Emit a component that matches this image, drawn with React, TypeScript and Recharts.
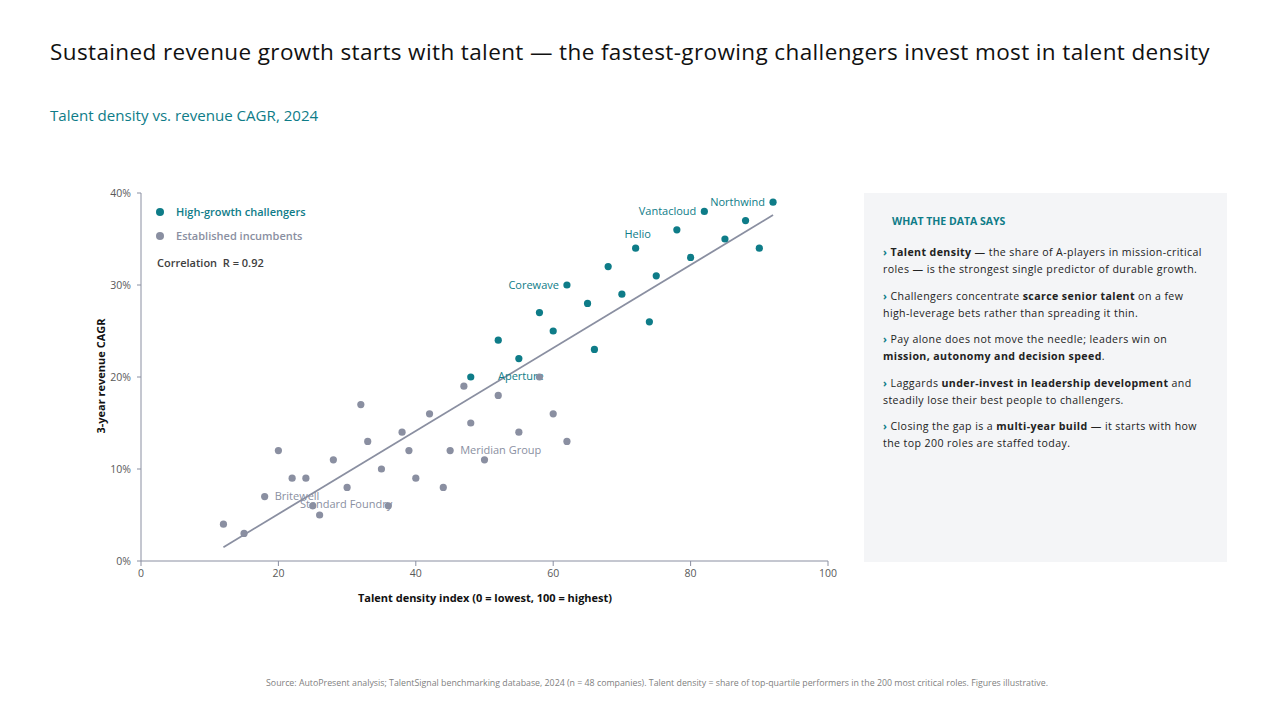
import React from 'react';
import { ScatterChart, Scatter, XAxis, YAxis, ReferenceLine } from 'recharts';

// Talent density index (x) and 3-year revenue CAGR in % (y)
const challengerDensity = [92, 82, 88, 78, 85, 72, 90, 80, 68, 75, 62, 70, 65, 58, 74, 60, 52, 66, 55, 48];
const challengerCagr = [39, 38, 37, 36, 35, 34, 34, 33, 32, 31, 30, 29, 28, 27, 26, 25, 24, 23, 22, 20];
const challengerNames = ['Northwind', 'Vantacloud', '', '', '', 'Helio', '', '', '', '', 'Corewave', '', '', '', '', '', '', '', 'Aperture', ''];

const incumbentDensity = [12, 15, 18, 20, 22, 24, 25, 26, 28, 30, 32, 33, 35, 36, 38, 39, 40, 42, 44, 45, 47, 48, 50, 52, 55, 58, 60, 62];
const incumbentCagr = [4, 3, 7, 12, 9, 9, 6, 5, 11, 8, 17, 13, 10, 6, 14, 12, 9, 16, 8, 12, 19, 15, 11, 18, 14, 20, 16, 13];
const incumbentNames = ['', '', 'Britewell', '', '', '', '', '', '', 'Standard Foundry', '', '', '', '', '', '', '', '', '', 'Meridian Group', '', '', '', '', '', '', '', ''];

// fitted trend line end points
const trendDensity = [12, 92];
const trendCagr = [1.5, 37.6];

const xTicks = [0, 20, 40, 60, 80, 100];
const yTicks = [0, 10, 20, 30, 40];

// each insight: two lines, each a list of [weight, text] runs
const insights: [string, string][][][] = [
  [
    [['', ' '], ['b', 'Talent density'], ['', ' — the share of A-players in mission-critical']],
    [['', 'roles — is the strongest single predictor of durable growth.']],
  ],
  [
    [['', ' Challengers concentrate '], ['b', 'scarce senior talent'], ['', ' on a few']],
    [['', 'high-leverage bets rather than spreading it thin.']],
  ],
  [
    [['', ' Pay alone does not move the needle; leaders win on']],
    [['b', 'mission, autonomy and decision speed'], ['', '.']],
  ],
  [
    [['', ' Laggards '], ['b', 'under-invest in leadership development'], ['', ' and']],
    [['', 'steadily lose their best people to challengers.']],
  ],
  [
    [['', ' Closing the gap is a '], ['b', 'multi-year build'], ['', ' — it starts with how']],
    [['', 'the top 200 roles are staffed today.']],
  ],
];

const FONT = '"Open Sans", "Segoe UI", sans-serif';
const TEAL = '#0E7C88';
const GREY = '#8A8FA1';
const AXIS = '#8A8FA1';

const toPoints = (xs: number[], ys: number[], names: string[]) =>
  xs.map((x, i) => ({ x, y: ys[i], name: names[i] }));

const challengers = toPoints(challengerDensity, challengerCagr, challengerNames);
const incumbents = toPoints(incumbentDensity, incumbentCagr, incumbentNames);
const named = [
  ...challengers.filter((p) => p.name).map((p) => ({ ...p, color: TEAL })),
  ...incumbents.filter((p) => p.name).map((p) => ({ ...p, color: GREY })),
];

const labelPlacement: Record<string, { anchor: 'start' | 'middle' | 'end'; dx: number; dy: number }> = {
  Northwind: { anchor: 'end', dx: -8, dy: -1 },
  Vantacloud: { anchor: 'end', dx: -8, dy: -1 },
  Helio: { anchor: 'middle', dx: 2, dy: -15 },
  Corewave: { anchor: 'end', dx: -8, dy: -1 },
  Aperture: { anchor: 'middle', dx: 2, dy: 17 },
  Britewell: { anchor: 'start', dx: 10, dy: -1 },
  'Standard Foundry': { anchor: 'middle', dx: -1, dy: 16 },
  'Meridian Group': { anchor: 'start', dx: 10, dy: -1 },
};

const makeDot = (color: string) => (props: any) => (
  <circle cx={props.cx} cy={props.cy} r={3.6} fill={color} />
);

const NameLabel = (props: any) => {
  const { cx, cy, payload } = props;
  const place = labelPlacement[payload.name];
  if (!place) return <g />;
  return (
    <text
      x={cx + place.dx}
      y={cy + place.dy}
      textAnchor={place.anchor}
      dominantBaseline="central"
      fontSize={11}
      fontFamily={FONT}
      fill={payload.color}
    >
      {payload.name}
    </text>
  );
};

const tickStyle = { fontSize: 10.5, fill: '#595959', fontFamily: FONT };

export default function App() {
  return (
    <div style={{ position: 'absolute', left: 0, top: 0, width: 1280, height: 720, background: '#fff', fontFamily: FONT, overflow: 'hidden' }}>
      <div style={{ position: 'absolute', left: 50, top: 36, fontSize: 22.5, letterSpacing: 0.38, color: '#111', whiteSpace: 'nowrap' }}>
        Sustained revenue growth starts with talent — the fastest-growing challengers invest most in talent density
      </div>
      <div style={{ position: 'absolute', left: 50, top: 105, fontSize: 15.1, color: TEAL, whiteSpace: 'nowrap' }}>
        Talent density vs. revenue CAGR, 2024
      </div>

      <div style={{ position: 'absolute', left: 0, top: 0 }}>
        <ScatterChart width={860} height={620} margin={{ top: 193, right: 32, bottom: 29, left: 101 }}>
          <XAxis
            type="number"
            dataKey="x"
            domain={[0, 100]}
            ticks={xTicks}
            height={30}
            stroke={AXIS}
            tickSize={5}
            tickMargin={4}
            tick={tickStyle}
          />
          <YAxis
            type="number"
            dataKey="y"
            domain={[0, 40]}
            ticks={yTicks}
            width={40}
            stroke={AXIS}
            tickSize={4}
            tickMargin={6}
            tick={tickStyle}
            tickFormatter={(v: number) => `${v}%`}
          />
          <ReferenceLine
            segment={[
              { x: trendDensity[0], y: trendCagr[0] },
              { x: trendDensity[1], y: trendCagr[1] },
            ]}
            stroke={GREY}
            strokeWidth={1.8}
          />
          <Scatter data={named} shape={NameLabel} isAnimationActive={false} />
          <Scatter data={incumbents} shape={makeDot(GREY)} isAnimationActive={false} />
          <Scatter data={challengers} shape={makeDot(TEAL)} isAnimationActive={false} />
        </ScatterChart>
      </div>

      {/* axis titles */}
      <div style={{ position: 'absolute', left: 100, top: 376, transform: 'translate(-50%, -50%) rotate(-90deg)', fontSize: 11, fontWeight: 700, color: '#111', whiteSpace: 'nowrap' }}>
        3-year revenue CAGR
      </div>
      <div style={{ position: 'absolute', left: 485, top: 597, transform: 'translate(-50%, -50%)', fontSize: 11, fontWeight: 700, color: '#111', whiteSpace: 'nowrap' }}>
        Talent density index (0 = lowest, 100 = highest)
      </div>

      {/* in-plot legend */}
      <div style={{ position: 'absolute', left: 156, top: 200, fontSize: 11, fontWeight: 600, lineHeight: '24px' }}>
        <div style={{ display: 'flex', alignItems: 'center', color: TEAL }}>
          <span style={{ width: 8, height: 8, borderRadius: '50%', background: TEAL, marginRight: 12 }} />
          High-growth challengers
        </div>
        <div style={{ display: 'flex', alignItems: 'center', color: GREY }}>
          <span style={{ width: 8, height: 8, borderRadius: '50%', background: GREY, marginRight: 12 }} />
          Established incumbents
        </div>
      </div>
      <div style={{ position: 'absolute', left: 157, top: 255, fontSize: 11, fontWeight: 600, color: '#404040', whiteSpace: 'pre' }}>
        Correlation  R = 0.92
      </div>

      {/* side panel */}
      <div style={{ position: 'absolute', left: 864, top: 193, width: 363, height: 369, background: '#F4F5F7' }}>
        <div style={{ position: 'absolute', left: 28, top: 21, fontSize: 10.5, fontWeight: 700, color: TEAL }}>
          WHAT THE DATA SAYS
        </div>
        <div style={{ position: 'absolute', left: 19, top: 51, fontSize: 10.6, letterSpacing: 0.4, lineHeight: '17px', color: '#222', whiteSpace: 'pre' }}>
          {insights.map((lines, i) => (
            <div key={i} style={{ marginBottom: 9.5 }}>
              {lines.map((runs, l) => (
                <div key={l}>
                  {l === 0 && <span style={{ color: TEAL, fontWeight: 700 }}>›</span>}
                  {runs.map(([kind, text], j) => (
                    <span key={j} style={{ fontWeight: kind === 'b' ? 700 : 400 }}>{text}</span>
                  ))}
                </div>
              ))}
            </div>
          ))}
        </div>
      </div>

      <div style={{ position: 'absolute', left: 0, width: 1314, top: 677, textAlign: 'center', fontSize: 8.8, color: '#7F7F7F', whiteSpace: 'nowrap' }}>
        Source: AutoPresent analysis; TalentSignal benchmarking database, 2024 (n = 48 companies). Talent density = share of top-quartile performers in the 200 most critical roles. Figures illustrative.
      </div>
    </div>
  );
}
